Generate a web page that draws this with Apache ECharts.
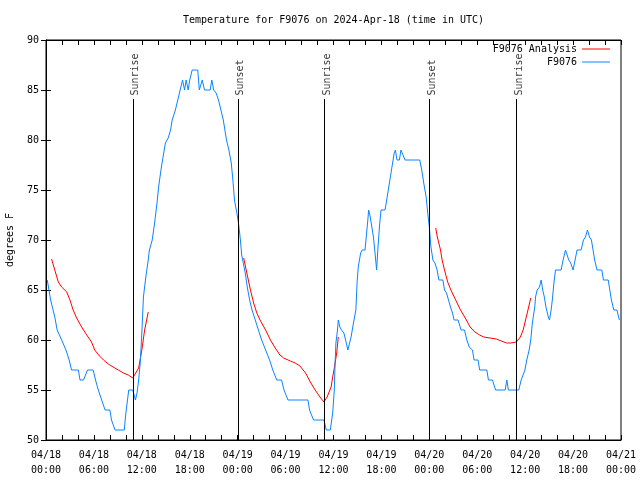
<!DOCTYPE html>
<html>
<head>
<meta charset="utf-8">
<script src="https://cdn.jsdelivr.net/npm/echarts@6/dist/echarts.min.js"></script>
<style>html,body{margin:0;padding:0;background:#fff}#c{width:640px;height:480px}</style>
</head>
<body>
<div id="c"></div>
<script>
const chartTitle = 'Temperature for F9076 on 2024-Apr-18 (time in UTC)';
const yAxisName = 'degrees F';
const dayLabels = ['04/18', '04/19', '04/20', '04/21'];
const yTicks = [50, 55, 60, 65, 70, 75, 80, 85, 90];

const sunEvents = ['Sunrise', 'Sunset', 'Sunrise', 'Sunset', 'Sunrise'];
const sunHours = [10.87, 24.02, 34.8, 47.97, 58.88];
const sunLineTop = 84.1;

// Observed station temperature (hours since 04/18 00:00 UTC, deg F)
const obsHours = [0.16,0.58,1.1,1.4,1.96,2.5,2.9,3.2,4.05,4.26,4.7,5.2,5.9,6.3,6.55,6.97,7.4,8.0,8.2,8.65,9.8,10.0,10.36,10.86,11.2,11.4,11.6,11.8,12.0,12.2,12.5,12.8,12.95,13.3,13.6,13.9,14.1,14.45,14.74,14.95,15.3,15.6,15.8,16.2,16.5,16.8,17.1,17.35,17.55,17.8,18.0,18.3,19.0,19.2,19.56,19.85,20.56,20.76,21.0,21.3,21.6,21.9,22.2,22.6,22.9,23.2,23.4,23.6,23.9,24.1,24.25,24.4,24.5,24.7,24.95,25.2,25.5,25.8,26.2,26.6,27.0,27.5,28.0,28.4,28.9,29.5,29.8,30.3,32.8,33.0,33.5,34.8,35.1,35.6,35.9,36.1,36.2,36.3,36.5,36.6,36.8,37.0,37.3,37.6,37.8,38.0,38.2,38.5,38.8,38.95,39.1,39.4,39.6,39.95,40.1,40.3,40.4,40.6,40.8,41.0,41.2,41.4,41.55,41.75,41.95,42.45,42.6,42.8,43.0,43.2,43.4,43.6,43.75,43.95,44.25,44.45,44.65,44.96,46.8,47.05,47.3,47.6,47.8,48.0,48.2,48.45,48.7,48.97,49.2,49.7,49.9,50.15,50.4,50.65,50.9,51.1,51.6,51.97,52.4,52.7,53.0,53.4,53.6,54.1,54.3,55.2,55.4,55.9,56.3,57.5,57.7,57.9,59.2,59.5,59.75,59.97,60.2,60.5,60.7,60.9,61.05,61.2,61.3,61.5,61.8,62.0,62.2,62.4,62.6,62.9,63.05,63.25,63.4,63.6,63.8,64.5,64.75,65.05,65.25,65.46,65.7,66.0,66.25,66.5,67.0,67.3,67.55,67.8,68.05,68.3,68.5,68.7,69.0,69.6,69.8,70.4,70.6,70.8,71.1,71.5,71.7,71.8];
const obsTemps = [66,64,62.3,61,60,59,58,57,57,56,56,57,57,55.7,55,54,53,53,52,51,51,52.7,55,55,54,54.7,56,57.7,60.7,64.3,66.3,68,69,70,71.7,73.7,75.3,77.3,78.7,79.7,80.2,81,82,83,84,85,86,85,86,85,86,87,87,85,86,85,85,86,85,84.7,84,83,82,80,79,77.7,76,74,72.7,71.7,70.7,69.5,68.5,67.7,66.7,65.3,64,63,62,61,60,59,58,57,56,56,55,54,54,53,52,52,51,51,52.7,55,57.7,59.7,61,62,61.3,61,60.7,59.7,59,59,60.3,61.7,63,65.7,67.3,68.7,69,69,70.3,72,73,72.3,71.3,70.3,68.7,67,69,71.3,73,73,73.7,74.7,75.7,76.7,77.7,78.7,79,78,78,79,79,78,78,77,75.7,74.3,72.7,71.3,69.3,68,67.7,67,66,66,65,64.7,64,63.3,62.7,62,62,61,61,60,59.3,59,58,58,57,57,56,56,55,55,56,55,55,56,56,57,58,59,60,61.7,62.5,63.3,64.3,65,65.3,66,65,64.3,63.3,62.3,62,63,64,65.7,67,67,68,69,69,68,67.7,67,68,69,69,70,70.3,71,70.3,70,69,68,67,67,66,66,65,64,63,63,62.3,62];

// Analysis temperature (null = gap)
const anaHours = [0.7,1.1,1.54,1.96,2.6,3.0,3.4,3.84,4.46,5.1,5.7,6.1,6.7,7.2,7.8,8.4,9.06,9.7,10.3,10.86,11.6,12.0,12.35,12.8,18,24.75,25.15,25.6,26.0,26.4,26.8,27.5,28.1,28.7,29.3,29.75,30.6,31.2,31.8,32.5,33.1,33.7,34.4,34.8,35.2,35.7,35.9,36.1,36.4,36.6,42,48.8,49.0,49.4,49.6,49.9,50.3,50.7,51.3,51.9,52.5,53.1,53.7,54.3,54.8,55.6,56.4,57.0,57.7,58.2,58.9,59.4,59.75,60.05,60.35,60.7];
const anaTemps = [68.1,67,65.8,65.3,64.8,64,63,62.2,61.3,60.5,59.8,59,58.4,58,57.6,57.3,57,56.7,56.5,56.2,57.2,59,61,62.8,null,68.2,66.7,65,63.7,62.7,62.0,61,60,59.2,58.5,58.2,57.9,57.7,57.4,56.7,55.8,55,54.2,53.8,54.3,55.3,56.3,57.2,58.7,60.3,null,71.2,70.3,69,68,67,65.8,65,64,63,62.2,61.3,60.8,60.5,60.3,60.2,60.1,59.9,59.7,59.7,59.8,60.3,61,62,63,64.2];

const FONT = 'DejaVu Sans Mono';
const pad2 = n => (n < 10 ? '0' : '') + n;
const obsData = obsHours.map((h, i) => [h, obsTemps[i]]);
const anaData = anaHours.map((h, i) => [h, anaTemps[i] === null ? '-' : anaTemps[i]]);

const chart = echarts.init(document.getElementById('c'), null, {renderer: 'canvas'});

const axisCommon = {
  axisLine: {show: true, lineStyle: {color: '#000', width: 1}},
  axisTick: {show: true, inside: true, length: 5, lineStyle: {color: '#000', width: 1}},
  splitLine: {show: false}
};

const legendCommon = {
  right: 30, orient: 'vertical', align: 'right', icon: 'rect',
  itemWidth: 28, itemHeight: 1, itemGap: 0, selectedMode: false, padding: 0,
  textStyle: {fontFamily: FONT, fontSize: 10, color: '#000'}
};

const option = {
  animation: false,
  backgroundColor: '#fff',
  textStyle: {fontFamily: FONT},
  title: {
    text: chartTitle, left: 183, top: 15, padding: 0,
    textStyle: {fontFamily: FONT, fontSize: 10, fontWeight: 'normal', color: '#000'}
  },
  grid: {left: 46, right: 19, top: 40, bottom: 40, containLabel: false, outerBoundsMode: 'none',
         show: true, borderColor: '#000', borderWidth: 1, backgroundColor: 'transparent'},
  legend: [
    Object.assign({}, legendCommon, {data: ['F9076 Analysis'], top: 44}),
    Object.assign({}, legendCommon, {data: ['F9076'], top: 57})
  ],
  xAxis: [
    Object.assign({}, axisCommon, {
      type: 'value', min: 0, max: 72, interval: 2, position: 'bottom',
      axisLabel: {
        show: true, margin: 8, color: '#000', fontFamily: FONT, fontSize: 10, lineHeight: 15,
        formatter: v => (v % 6 === 0 ? dayLabels[Math.floor(v / 24)] + '\n' + pad2(v % 24) + ':00' : '')
      }
    }),
    Object.assign({}, axisCommon, {
      type: 'value', min: 0, max: 72, interval: 2, position: 'top', axisLabel: {show: false}
    })
  ],
  yAxis: [
    Object.assign({}, axisCommon, {
      type: 'value', min: yTicks[0], max: yTicks[yTicks.length - 1], interval: 5, position: 'left',
      name: yAxisName, nameLocation: 'middle', nameGap: 31, nameRotate: 90,
      nameTextStyle: {fontFamily: FONT, fontSize: 10, color: '#000'},
      axisLabel: {show: true, margin: 7, color: '#000', fontFamily: FONT, fontSize: 10}
    }),
    Object.assign({}, axisCommon, {
      type: 'value', min: yTicks[0], max: yTicks[yTicks.length - 1], interval: 5, position: 'right',
      axisLabel: {show: false}
    })
  ],
  series: [
    {
      name: 'F9076 Analysis', type: 'line', data: anaData, connectNulls: false,
      showSymbol: false, symbol: 'none', z: 3,
      lineStyle: {color: '#ff0000', width: 1}, itemStyle: {color: '#ff0000'}
    },
    {
      name: 'F9076', type: 'line', data: obsData,
      showSymbol: false, symbol: 'none', z: 4,
      lineStyle: {color: '#0a84ff', width: 1}, itemStyle: {color: '#0a84ff'}
    },
    {
      name: 'sun', type: 'line', data: [], z: 5,
      markLine: {
        silent: true, symbol: ['none', 'none'], animation: false,
        lineStyle: {color: '#000', width: 1, type: 'solid'},
        label: {show: false},
        data: sunHours.map(h => [{coord: [h, yTicks[0]]}, {coord: [h, sunLineTop]}])
      }
    },
    {
      name: 'sunLabels', type: 'scatter', symbolSize: 1, z: 6, silent: true,
      itemStyle: {color: 'rgba(0,0,0,0)'},
      data: sunHours.map((h, i) => ({value: [h, sunLineTop], name: sunEvents[i]})),
      label: {
        show: true, formatter: p => p.name, rotate: 90, position: 'top', distance: 5,
        align: 'left', verticalAlign: 'middle', offset: [-2, 3],
        fontFamily: FONT, fontSize: 10, color: '#000'
      }
    }
  ]
};
chart.setOption(option);
</script>
</body>
</html>
